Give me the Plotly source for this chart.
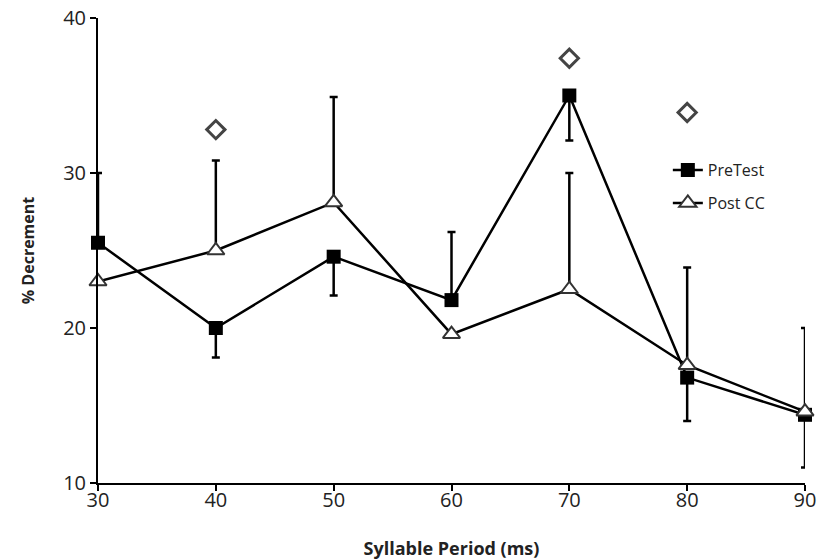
import plotly.graph_objects as go

periods = [30, 40, 50, 60, 70, 80, 90]
pretest = [25.5, 20.0, 24.6, 21.8, 35.0, 16.8, 14.4]
pretest_err_up = [4.5, 0, 0, 4.4, 0, 0, 0]
pretest_err_down = [0, 1.9, 2.5, 0, 2.9, 2.8, 3.4]
postcc = [23.0, 25.0, 28.1, 19.6, 22.5, 17.6, 14.6]
postcc_err_up = [0, 5.8, 6.8, 0, 7.5, 6.3, 5.4]
postcc_err_down = [0, 0, 0, 0, 0, 0, 0]
sig_periods = [40, 70, 80]
sig_values = [32.8, 37.4, 33.9]

font_family = "Open Sans, Noto Sans, sans-serif"

fig = go.Figure()

fig.add_trace(go.Scatter(
    x=periods, y=pretest, name="PreTest", mode="lines+markers",
    line=dict(color="black", width=2.5),
    marker=dict(symbol="square", size=14, color="black"),
    error_y=dict(type="data", symmetric=False, array=pretest_err_up,
                 arrayminus=pretest_err_down, color="black", thickness=2.5, width=4),
    cliponaxis=False, legend="legend",
))
fig.add_trace(go.Scatter(
    x=periods, y=postcc, name="Post CC", mode="lines+markers",
    line=dict(color="black", width=2.5),
    marker=dict(symbol="triangle-up", size=15, color="white",
                line=dict(color="#333333", width=2)),
    error_y=dict(type="data", symmetric=False, array=postcc_err_up,
                 arrayminus=postcc_err_down, color="black", thickness=2.5, width=4),
    cliponaxis=False, legend="legend2",
))
fig.add_trace(go.Scatter(
    x=sig_periods, y=sig_values, mode="markers", showlegend=False,
    marker=dict(symbol="diamond-open", size=14, color="#444444",
                line=dict(color="#444444", width=3)),
    cliponaxis=False,
))

fig.update_layout(
    width=820, height=560,
    margin=dict(l=98, r=15, t=18, b=77, autoexpand=False),
    paper_bgcolor="white", plot_bgcolor="white",
    font=dict(family=font_family, size=20, color="#222222"),
    showlegend=True,
    legend=dict(x=0.806, y=0.673, xanchor="left", yanchor="middle",
                font=dict(size=16, color="#222222"), bgcolor="rgba(0,0,0,0)",
                itemwidth=30),
    legend2=dict(x=0.806, y=0.602, xanchor="left", yanchor="middle",
                 font=dict(size=16, color="#222222"), bgcolor="rgba(0,0,0,0)",
                 itemwidth=30),
)
fig.update_xaxes(
    range=[30, 90], dtick=10, tick0=30, showgrid=False, zeroline=False,
    showline=True, linecolor="black", linewidth=2,
    ticks="outside", ticklen=6, tickwidth=2, tickcolor="black",
    ticklabeloverflow="allow", ticklabelstandoff=-8, automargin=False,
    title=dict(text="<b>Syllable Period (ms)</b>", font=dict(size=18), standoff=30),
)
fig.update_yaxes(
    range=[10, 40], dtick=10, tick0=10, showgrid=False, zeroline=False,
    showline=True, linecolor="black", linewidth=2,
    ticks="outside", ticklen=6, tickwidth=2, tickcolor="black",
    ticklabeloverflow="allow", automargin=False,
    title=dict(text="<b>% Decrement</b>", font=dict(size=16), standoff=25),
)

fig.write_html(
    "out.html",
    config={"displayModeBar": False},
    post_script="document.body.style.margin='0';document.body.style.overflow='hidden';"
                "document.documentElement.style.overflow='hidden';",
)
